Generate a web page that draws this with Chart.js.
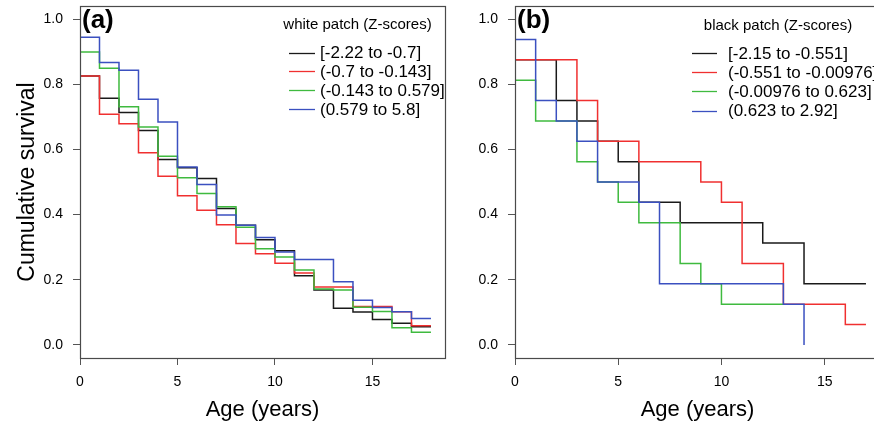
<!DOCTYPE html>
<html><head><meta charset="utf-8">
<script src="https://cdn.jsdelivr.net/npm/chart.js@4.4.0/dist/chart.umd.min.js"></script>
<style>
html,body{margin:0;padding:0;width:874px;height:424px;overflow:hidden;background:#fff}
canvas{position:absolute;top:0}
#ca{left:0}
#cb{left:435px}
</style></head><body>
<canvas id="ca" width="452" height="424"></canvas>
<canvas id="cb" width="452" height="424"></canvas>
<script>
// ---- Data (value in the interval starting at age = index, in years) ----
const startSurvival = 1.0;
const xTicks = [0, 5, 10, 15];
const yTicks = [0.0, 0.2, 0.4, 0.6, 0.8, 1.0];

// Panel (a): white patch
const whiteTitle = 'white patch (Z-scores)';
const whiteLabels = ['[-2.22 to -0.7]', '(-0.7 to -0.143]', '(-0.143 to 0.579]', '(0.579 to 5.8]'];
const whiteQ1 = [0.825,0.757,0.713,0.658,0.569,0.544,0.511,0.419,0.367,0.323,0.289,0.212,0.169,0.113,0.101,0.078,0.067,0.056];
const whiteQ2 = [0.825,0.708,0.679,0.590,0.518,0.458,0.413,0.369,0.311,0.280,0.251,0.221,0.178,0.178,0.118,0.118,0.102,0.059];
const whiteQ3 = [0.899,0.849,0.731,0.669,0.579,0.513,0.465,0.424,0.361,0.295,0.270,0.230,0.172,0.169,0.116,0.103,0.053,0.039];
const whiteQ4 = [0.944,0.867,0.843,0.754,0.684,0.546,0.492,0.399,0.367,0.330,0.285,0.262,0.262,0.194,0.137,0.115,0.102,0.081];
const whiteEnds = [18, 18, 18, 18];

// Panel (b): black patch
const blackTitle = 'black patch (Z-scores)';
const blackLabels = ['[-2.15 to -0.551]', '(-0.551 to -0.00976]', '(-0.00976 to 0.623]', '(0.623 to 2.92]'];
const blackQ1 = [0.875,0.875,0.75,0.6875,0.625,0.5625,0.4375,0.4375,0.375,0.375,0.375,0.375,0.3125,0.3125,0.1875,0.1875,0.1875];
const blackQ2 = [0.875,0.875,0.875,0.75,0.625,0.625,0.5625,0.5625,0.5625,0.5,0.4375,0.25,0.25,0.125,0.125,0.125,0.0625];
const blackQ3 = [0.8125,0.6875,0.6875,0.5625,0.5,0.4375,0.375,0.375,0.25,0.1875,0.125,0.125,0.125];
const blackQ4 = [0.9375,0.75,0.6875,0.625,0.5,0.5,0.4375,0.1875,0.1875,0.1875,0.1875,0.1875,0.1875,0.125,0];
const blackEnds = [17, 17, 13, 14];

const colors = ['#1a1a1a', '#f03030', '#3fba3f', '#3b50c0'];
const FONT = '"Liberation Sans", Arial, sans-serif';

function stepPoints(vals, end) {
  const pts = [{x: 0, y: startSurvival}];
  vals.forEach((v, i) => pts.push({x: i, y: v}));
  if (end > vals.length - 1) pts.push({x: end, y: vals[vals.length - 1]});
  return pts;
}

const panelPlugin = {
  id: 'panel',
  afterDraw(chart, args, o) {
    const {ctx, chartArea: a} = chart;
    ctx.save();
    ctx.strokeStyle = '#4a4a4a'; ctx.lineWidth = 1.2;
    ctx.strokeRect(Math.round(a.left) + 0.5, Math.round(a.top) + 0.5,
                   Math.round(a.right - a.left), Math.round(a.bottom - a.top));
    ctx.fillStyle = '#000';
    ctx.font = 'bold 26px ' + FONT;
    ctx.textAlign = 'left'; ctx.textBaseline = 'alphabetic';
    ctx.fillText(o.letter, a.left + 2, a.top + 22);
    ctx.font = '15px ' + FONT;
    ctx.textAlign = 'center'; ctx.textBaseline = 'middle';
    ctx.fillText(o.title, o.titleX, o.titleY);
    ctx.font = '17px ' + FONT;
    ctx.textAlign = 'left';
    o.labels.forEach((lab, i) => {
      const y = o.rowY + i * o.rowGap;
      ctx.strokeStyle = o.colors[i]; ctx.lineWidth = 1.3;
      ctx.beginPath(); ctx.moveTo(o.lineX0, Math.round(y) + 0.5); ctx.lineTo(o.lineX1, Math.round(y) + 0.5); ctx.stroke();
      ctx.fillStyle = '#000';
      ctx.fillText(lab, o.textX, y + 1);
    });
    ctx.restore();
  }
};

function makeChart(id, series, ends, labels, xMax, showYTitle, legend) {
  const datasets = series.map((vals, i) => ({
    label: labels[i],
    data: stepPoints(vals, ends[i]),
    borderColor: colors[i],
    borderWidth: 1.5,
    stepped: true,
    pointRadius: 0,
    fill: false,
    order: 4 - i
  }));
  return new Chart(document.getElementById(id), {
    type: 'line',
    data: {datasets},
    plugins: [panelPlugin],
    options: {
      responsive: false,
      animation: false,
      events: [],
      layout: {padding: {left: 0, top: 6, right: 7, bottom: 0}},
      plugins: {legend: {display: false}, tooltip: {enabled: false}, panel: legend},
      scales: {
        x: {
          type: 'linear', min: 0, max: xMax,
          afterBuildTicks: s => { s.ticks = xTicks.map(v => ({value: v})); },
          afterFit: s => { s.height = 66; s.paddingLeft = 0; s.paddingRight = 0; },
          border: {display: false},
          grid: {display: true, drawOnChartArea: false, drawTicks: true, tickLength: 7, color: '#555'},
          ticks: {padding: 9, color: '#000', autoSkip: false, maxRotation: 0,
                  font: {family: FONT, size: 14}, callback: v => String(v)},
          title: {display: true, text: 'Age (years)', color: '#000',
                  font: {family: FONT, size: 22}, padding: {top: 0, bottom: 1}}
        },
        y: {
          type: 'linear', min: -0.04, max: 1.04,
          afterBuildTicks: s => { s.ticks = yTicks.map(v => ({value: v})); },
          afterFit: s => { s.width = 80; s.paddingTop = 0; s.paddingBottom = 0; },
          border: {display: false},
          grid: {display: true, drawOnChartArea: false, drawTicks: true, tickLength: 7, color: '#555'},
          ticks: {padding: 10, color: '#000', font: {family: FONT, size: 14},
                  callback: v => Number(v).toFixed(1)},
          title: {display: showYTitle, text: 'Cumulative survival', color: '#000',
                  font: {family: FONT, size: 23}, padding: {top: 14, bottom: 0}}
        }
      }
    }
  });
}

makeChart('ca', [whiteQ1, whiteQ2, whiteQ3, whiteQ4], whiteEnds, whiteLabels, 18.72, true,
  {letter: '(a)', title: whiteTitle, labels: whiteLabels, colors,
   titleX: 357.5, titleY: 25, lineX0: 289, lineX1: 315, textX: 320, rowY: 52.5, rowGap: 18.8});
makeChart('cb', [blackQ1, blackQ2, blackQ3, blackQ4], blackEnds, blackLabels, 17.68, false,
  {letter: '(b)', title: blackTitle, labels: blackLabels, colors,
   titleX: 343, titleY: 26, lineX0: 257, lineX1: 282, textX: 293, rowY: 53, rowGap: 19.2});
</script>
</body></html>
